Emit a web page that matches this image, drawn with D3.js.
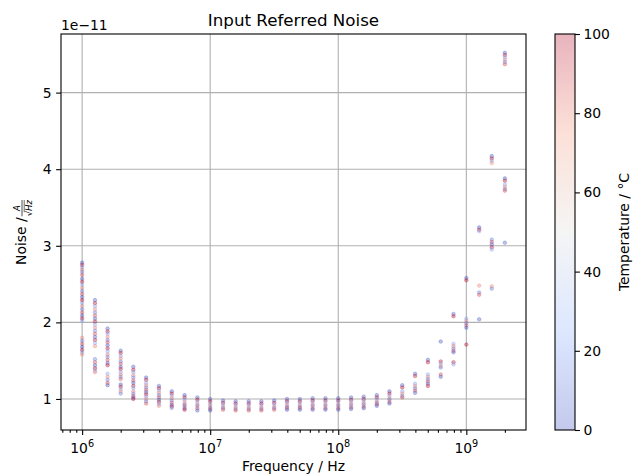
<!DOCTYPE html>
<html>
<head>
<meta charset="utf-8">
<script src="https://cdn.jsdelivr.net/npm/d3@7"></script>
<style>
  body { margin: 0; background: #fff; overflow: hidden; }
  svg { display: block; }
  text { font-family: "DejaVu Sans", sans-serif; fill: #000; }
</style>
</head>
<body>
<svg id="mainsvg" width="643" height="476"></svg>
<script>
// frequencies (Hz), 10 points per decade
const freqs = [
  1.0e6, 1.26e6, 1.58e6, 2.0e6, 2.51e6, 3.16e6, 3.98e6, 5.01e6, 6.31e6, 7.94e6,
  1.0e7, 1.26e7, 1.58e7, 2.0e7, 2.51e7, 3.16e7, 3.98e7, 5.01e7, 6.31e7, 7.94e7,
  1.0e8, 1.26e8, 1.58e8, 2.0e8, 2.51e8, 3.16e8, 3.98e8, 5.01e8, 6.31e8, 7.94e8,
  1.0e9, 1.26e9, 1.58e9, 2.0e9
];
// noise values per frequency, in units of 1e-11 A/sqrt(Hz)
const noise = [
  [2.78,2.75,2.72,2.69,2.66,2.62,2.57,2.53,2.49,2.45,2.41,2.37,2.33,2.29,2.25,2.21,2.17,2.13,2.09,2.05,2.02,1.80,1.76,1.72,1.68,1.64,1.61,1.58],
  [2.29,2.25,2.21,2.17,2.13,2.09,2.05,2.01,1.97,1.93,1.89,1.85,1.81,1.77,1.73,1.69,1.52,1.48,1.44,1.40,1.37,1.35],
  [1.92,1.88,1.85,1.81,1.77,1.74,1.70,1.66,1.62,1.58,1.55,1.51,1.47,1.44,1.33,1.29,1.25,1.21,1.18],
  [1.63,1.60,1.56,1.53,1.49,1.46,1.42,1.39,1.35,1.32,1.29,1.26,1.19,1.16,1.13,1.10,1.07],
  [1.42,1.38,1.35,1.31,1.28,1.24,1.21,1.17,1.14,1.10,1.07,1.04,1.02,1.00],
  [1.28,1.25,1.21,1.18,1.15,1.12,1.09,1.06,1.03,1.00,0.97,0.94],
  [1.17,1.14,1.11,1.08,1.05,1.02,0.99,0.96,0.93,0.91],
  [1.10,1.07,1.04,1.01,0.98,0.95,0.92,0.90,0.88],
  [1.05,1.02,0.99,0.96,0.93,0.91,0.88,0.86],
  [1.02,0.99,0.96,0.93,0.91,0.88,0.85],
  [1.00,0.97,0.94,0.92,0.89,0.87,0.85],
  [0.98,0.95,0.93,0.90,0.88,0.86],
  [0.97,0.94,0.92,0.89,0.87,0.85],
  [0.97,0.94,0.92,0.89,0.87,0.85],
  [0.97,0.94,0.92,0.89,0.87,0.85],
  [0.98,0.95,0.93,0.90,0.88,0.86],
  [1.00,0.97,0.95,0.92,0.90,0.88,0.86],
  [1.00,0.97,0.95,0.92,0.90,0.88,0.86],
  [1.01,0.98,0.96,0.93,0.91,0.88,0.86],
  [1.01,0.98,0.96,0.93,0.91,0.88,0.86],
  [1.01,0.98,0.96,0.93,0.91,0.88,0.86],
  [1.02,0.99,0.97,0.94,0.92,0.89,0.87],
  [1.03,1.00,0.98,0.95,0.93,0.90,0.88],
  [1.05,1.02,1.00,0.97,0.95,0.93,0.91],
  [1.10,1.07,1.04,1.01,0.99,0.96,0.94],
  [1.18,1.15,1.10,1.07,1.04,1.02],
  [1.33,1.30,1.20,1.17,1.14,1.11,1.08],
  [1.51,1.48,1.32,1.29,1.26,1.23,1.20,1.17],
  [1.75,1.49,1.46,1.43,1.41,1.32,1.29],
  [2.11,2.08,1.72,1.69,1.66,1.63,1.61,1.48,1.45],
  [2.58,2.55,2.05,2.02,1.99,1.96,1.93,1.71],
  [3.24,3.21,3.19,2.48,2.39,2.36,2.04],
  [4.17,4.14,4.11,4.08,3.08,3.05,3.02,2.98,2.95,2.47,2.44],
  [5.52,5.49,5.46,5.43,5.40,5.37,3.88,3.85,3.80,3.77,3.74,3.72,3.04]
];
const temps = [0, 100, 20, 80, 10, 90];
const xTicks = [1e6, 1e7, 1e8, 1e9];
const xTickExp = ['6', '7', '8', '9'];
const xMinor = [7e5, 8e5, 9e5, 2e6, 3e6, 4e6, 5e6, 6e6, 7e6, 8e6, 9e6,
  2e7, 3e7, 4e7, 5e7, 6e7, 7e7, 8e7, 9e7, 2e8, 3e8, 4e8, 5e8, 6e8, 7e8, 8e8, 9e8, 2e9];
const yTicks = [1, 2, 3, 4, 5];
const cbTicks = [0, 20, 40, 60, 80, 100];

const svg = d3.select('#mainsvg');
const width = +svg.attr('width');
const height = +svg.attr('height');
const margin = { top: 34, right: 117, bottom: 46, left: 61 };
const innerWidth = width - margin.left - margin.right;
const innerHeight = height - margin.top - margin.bottom;
const g = svg.append('g').attr('transform', `translate(${margin.left}, ${margin.top})`);

const xScale = d3.scaleLog().domain([Math.pow(10, 5.835), Math.pow(10, 9.466)]).range([0, innerWidth]);
const yScale = d3.scaleLinear().domain([0.595, 5.765]).range([innerHeight, 0]);

// coolwarm colormap
const coolwarm = d3.piecewise(d3.interpolateRgb, ['#3b4cc0', '#8db0fe', '#dddddd', '#f49a7b', '#b40426']);
const color = d3.scaleSequential(coolwarm).domain([0, 100]);

// grid
g.selectAll('.xgrid').data(xTicks).join('line').attr('class', 'xgrid')
  .attr('x1', d => xScale(d)).attr('x2', d => xScale(d))
  .attr('y1', 0).attr('y2', innerHeight)
  .attr('stroke', '#b0b0b0').attr('stroke-width', 1.1);
g.selectAll('.ygrid').data(yTicks).join('line').attr('class', 'ygrid')
  .attr('y1', d => yScale(d)).attr('y2', d => yScale(d))
  .attr('x1', 0).attr('x2', innerWidth)
  .attr('stroke', '#b0b0b0').attr('stroke-width', 1.1);

// points
const points = [];
freqs.forEach((f, i) => noise[i].forEach((v, j) => points.push({ f, v, t: temps[j % temps.length] })));
g.selectAll('.pt').data(points).join('circle').attr('class', 'pt')
  .attr('cx', d => xScale(d.f)).attr('cy', d => yScale(d.v)).attr('r', 1.8)
  .attr('fill', d => color(d.t)).attr('fill-opacity', 0.35)
  .attr('stroke', d => color(d.t)).attr('stroke-opacity', 0.35).attr('stroke-width', 0.8);

// x axis
const xAxis = d3.axisBottom(xScale).tickValues(xTicks).tickFormat('').tickSize(4.9).tickSizeOuter(0);
const xAxisGroup = g.append('g').attr('transform', `translate(0, ${innerHeight})`).call(xAxis);
const xMinorAxis = d3.axisBottom(xScale).tickValues(xMinor).tickFormat('').tickSize(2.8).tickSizeOuter(0);
const xMinorGroup = g.append('g').attr('transform', `translate(0, ${innerHeight})`).call(xMinorAxis);
[xAxisGroup, xMinorGroup].forEach(a => {
  a.select('.domain').remove();
  a.selectAll('text').remove();
  a.selectAll('line').attr('stroke', '#000').attr('stroke-width', 1.1);
});
xTicks.forEach((d, i) => {
  const t = g.append('text').attr('x', xScale(d)).attr('y', innerHeight + 22.5)
    .attr('text-anchor', 'middle').attr('font-size', 13.9);
  t.append('tspan').text('10');
  t.append('tspan').attr('dy', -6).attr('font-size', 9.7).text(xTickExp[i]);
});

// y axis
const yAxis = d3.axisLeft(yScale).tickValues(yTicks).tickFormat(d3.format('d')).tickSize(4.9).tickPadding(4.4).tickSizeOuter(0);
const yAxisGroup = g.append('g').call(yAxis);
yAxisGroup.select('.domain').remove();
yAxisGroup.selectAll('line').attr('stroke', '#000').attr('stroke-width', 1.1);
yAxisGroup.selectAll('text').attr('font-size', 13.9).attr('font-family', 'DejaVu Sans');

// frame
g.append('rect').attr('width', innerWidth).attr('height', innerHeight)
  .attr('fill', 'none').attr('stroke', '#000').attr('stroke-width', 1.1);

// texts
g.append('text').attr('x', 0).attr('y', -4).attr('font-size', 13.9).text('1e\u221211');
svg.append('text').attr('x', margin.left + innerWidth / 2).attr('y', 25.5)
  .attr('text-anchor', 'middle').attr('font-size', 16.7).text('Input Referred Noise');
svg.append('text').attr('x', margin.left + innerWidth / 2).attr('y', 471)
  .attr('text-anchor', 'middle').attr('font-size', 13.9).text('Frequency / Hz');

// y label with fraction
const yl = svg.append('g');
const ylText = yl.append('text').attr('x', 0).attr('y', 0).attr('font-size', 13.9).text('Noise / ');
const w1 = ylText.node().getComputedTextLength();
const den = yl.append('text').attr('y', 6).attr('font-size', 8.5).attr('font-style', 'italic')
  .attr('text-anchor', 'middle').text('\u221AHz');
const dw = den.node().getComputedTextLength();
den.attr('x', w1 + dw / 2 + 1);
yl.append('line').attr('x1', w1 + 1).attr('x2', w1 + dw + 1).attr('y1', -4).attr('y2', -4)
  .attr('stroke', '#000').attr('stroke-width', 0.7);
yl.append('line').attr('x1', w1 + 5).attr('x2', w1 + dw + 1).attr('y1', -1.8).attr('y2', -1.8)
  .attr('stroke', '#000').attr('stroke-width', 0.6);
yl.append('text').attr('x', w1 + dw / 2 + 1).attr('y', -6).attr('font-size', 8.5).attr('font-style', 'italic')
  .attr('text-anchor', 'middle').text('A');
const totalW = w1 + dw + 2;
yl.attr('transform', `translate(26, ${margin.top + innerHeight / 2 + totalW / 2}) rotate(-90)`);

// colorbar
const cbX = 555, cbW = 20;
const cbScale = d3.scaleLinear().domain([0, 100]).range([margin.top + innerHeight, margin.top]);
const defs = svg.append('defs');
const grad = defs.append('linearGradient').attr('id', 'cbgrad')
  .attr('x1', 0).attr('y1', 1).attr('x2', 0).attr('y2', 0);
d3.range(0, 101, 5).forEach(p => {
  grad.append('stop').attr('offset', p / 100).attr('stop-color', color(p)).attr('stop-opacity', 0.3);
});
svg.append('rect').attr('x', cbX).attr('y', margin.top).attr('width', cbW).attr('height', innerHeight)
  .attr('fill', 'url(#cbgrad)').attr('stroke', '#000').attr('stroke-width', 1.1);
const cbAxis = d3.axisRight(cbScale).tickValues(cbTicks).tickSize(4.9).tickPadding(3.5).tickSizeOuter(0);
const cbGroup = svg.append('g').attr('transform', `translate(${cbX + cbW}, 0)`).call(cbAxis);
cbGroup.select('.domain').remove();
cbGroup.selectAll('line').attr('stroke', '#000').attr('stroke-width', 1.1);
cbGroup.selectAll('text').attr('font-size', 13.9).attr('font-family', 'DejaVu Sans');
svg.append('text').attr('transform', `translate(629, ${margin.top + innerHeight / 2}) rotate(-90)`)
  .attr('text-anchor', 'middle').attr('font-size', 13.9).text('Temperature / \u00B0C');
</script>
</body>
</html>
